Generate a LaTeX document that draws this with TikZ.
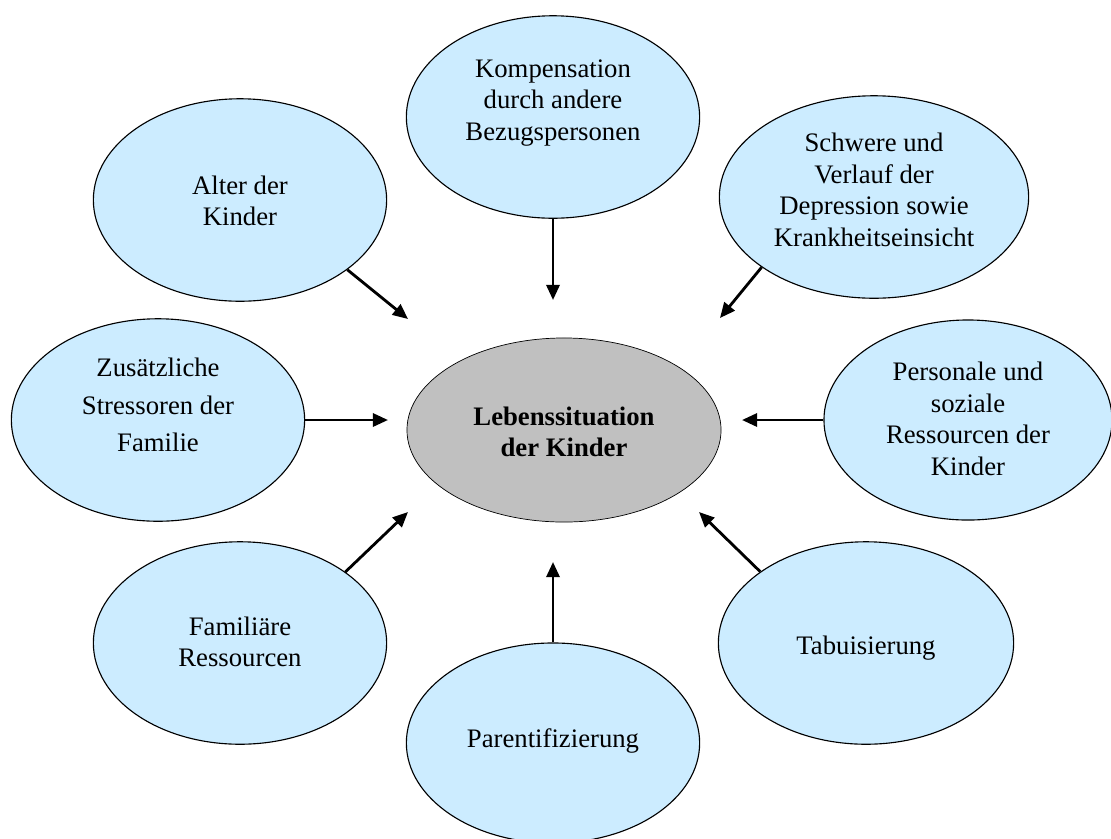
\documentclass[tikz,border=0pt]{standalone}
\usepackage{fontspec}
\setmainfont{Liberation Serif}
\usetikzlibrary{shapes,arrows.meta,positioning}
\definecolor{bubbleblue}{HTML}{CCECFF}
\definecolor{centregray}{HTML}{C0C0C0}

\begin{document}
\begin{tikzpicture}[x=0.025cm,y=-0.025cm]
\useasboundingbox (0,0) rectangle (1111,838);
\tikzstyle{bubble}=[ellipse, draw, line width=0.8pt, fill=bubbleblue, inner sep=0pt, minimum width=7.33cm, minimum height=5.06cm]
\tikzstyle{txt}=[align=center, inner sep=0pt, font=\fontsize{19}{22.5}\selectfont]
\tikzstyle{arr}=[line width=2pt, -{Triangle[length=0.38cm,width=0.33cm]}]
% centre
\node[bubble, fill=centregray, line width=0.5pt, minimum width=7.85cm, minimum height=4.6cm] (leben) at (564,430) {};
\node[txt, font=\fontsize{19}{22.5}\selectfont\bfseries] (lebenText) at (564,432) {Lebenssituation\\der Kinder};
% influences
\node[bubble] (komp) at (553,117) {};
\node[txt] (kompText) at (553,103) {Kompensation\\durch andere\\Bezugspersonen};
\node[bubble] (alter) at (240,200) {};
\node[txt] (alterText) at (240,201) {Alter der\\Kinder};
\node[bubble, minimum width=7.73cm] (schwere) at (874,197) {};
\node[txt] (schwereText) at (874,190) {Schwere und\\Verlauf der\\Depression sowie\\Krankheitseinsicht};
\node[bubble] (zusatz) at (158,420) {};
\node[txt, font=\fontsize{19}{26.6}\selectfont] (zusatzText) at (158,405) {Zusätzliche\\Stressoren der\\Familie};
\node[bubble, minimum width=7.2cm, minimum height=5cm] (personal) at (968,420) {};
\node[txt] (personalText) at (968,419) {Personale und\\soziale\\Ressourcen der\\Kinder};
\node[bubble] (famil) at (240,643) {};
\node[txt] (familText) at (240,642) {Familiäre\\Ressourcen};
\node[bubble, minimum height=5cm] (parent) at (553,743) {};
\node[txt] (parentText) at (553,741) {Parentifizierung};
\node[bubble, minimum width=7.38cm] (tabu) at (866,643) {};
\node[txt] (tabuText) at (866,648) {Tabuisierung};
% arrow tips
\coordinate (tipKomp) at (553,300);
\coordinate (tipAlter) at (408,319);
\coordinate (tipSchwere) at (720,318);
\coordinate (tipZusatz) at (388,420);
\coordinate (tipPersonal) at (742,420);
\coordinate (tipFamil) at (408,512);
\coordinate (tipParent) at (553,562);
\coordinate (tipTabu) at (699,512);
\draw[arr] (komp.south) -- (tipKomp);
\draw[arr] (alter.-33) -- (tipAlter);
\draw[arr] (schwere.-148) -- (tipSchwere);
\draw[arr] (zusatz.east) -- (tipZusatz);
\draw[arr] (personal.west) -- (tipPersonal);
\draw[arr] (famil.34) -- (tipFamil);
\draw[arr] (parent.north) -- (tipParent);
\draw[arr] (tabu.146) -- (tipTabu);
\end{tikzpicture}
\end{document}
